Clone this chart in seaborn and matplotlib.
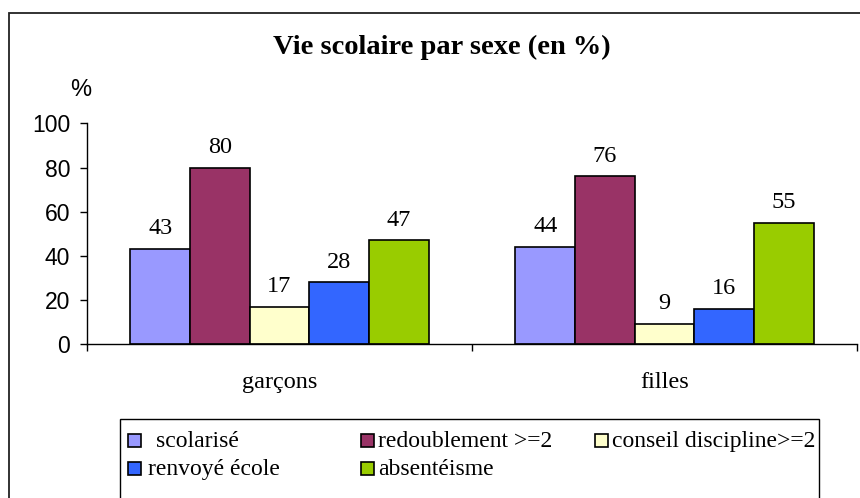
import matplotlib
matplotlib.use("Agg")
import matplotlib.pyplot as plt
from matplotlib.patches import Rectangle
import seaborn as sns
import pandas as pd

# ---- data ----
groups = ["garçons", "filles"]
series = ["scolarisé", "redoublement >=2", "conseil discipline>=2", "renvoyé école", "absentéisme"]
values_garcons = [43, 80, 17, 28, 47]
values_filles = [44, 76, 9, 16, 55]
colors = ["#9999FF", "#993366", "#FFFFCC", "#3366FF", "#99CC00"]
yticks = [0, 20, 40, 60, 80, 100]

rows = []
for s, vg, vf in zip(series, values_garcons, values_filles):
    rows.append({"sexe": groups[0], "indicateur": s, "valeur": vg})
    rows.append({"sexe": groups[1], "indicateur": s, "valeur": vf})
df = pd.DataFrame(rows)

sns.set_style("white")
plt.rcParams["font.family"] = ["Liberation Serif", "DejaVu Serif"]
plt.rcParams["text.color"] = "black"
plt.rcParams["xtick.color"] = "black"
plt.rcParams["ytick.color"] = "black"
plt.rcParams["axes.labelcolor"] = "black"

W, H = 860, 498
fig = plt.figure(figsize=(W / 100, H / 100), dpi=100)

def fx(px):
    return px / W

def fy(py):
    return 1 - py / H

ax = fig.add_axes([fx(87), fy(344), fx(857) - fx(87), fy(123.5) - fy(344)])

sns.barplot(data=df, x="sexe", y="valeur", hue="indicateur", order=groups,
            hue_order=series, palette=colors, width=0.775, edgecolor="black",
            linewidth=1.2, saturation=1, legend=False, ax=ax)

ax.set_xlim(-0.5, 1.5)
ax.set_ylim(0, 100)
ax.set_yticks(yticks)
ax.set_yticklabels([str(t) for t in yticks], family=["Liberation Sans", "DejaVu Sans"], fontsize=16.5)
ax.set_xlabel("")
ax.set_ylabel("")
for sp in ["top", "right"]:
    ax.spines[sp].set_visible(False)
for sp in ["left", "bottom"]:
    ax.spines[sp].set_color("black")
    ax.spines[sp].set_linewidth(1.0)

ax.tick_params(axis="y", direction="out", length=5, width=1, pad=7, colors="black", left=True)
ax.set_xticks([0, 1])
ax.set_xticklabels(groups, fontsize=17.5)
ax.tick_params(axis="x", which="major", length=0, pad=20, labelcolor="black")
ax.set_xticks([-0.5, 0.5, 1.5], minor=True)
ax.tick_params(axis="x", which="minor", direction="out", length=5, width=1, bottom=True, color="black")

for cont in ax.containers:
    ax.bar_label(cont, fmt="%d", padding=7, fontsize=17.5, color="black")

# title and unit
fig.text(fx(442), fy(47), "Vie scolaire par sexe (en %)", ha="center", va="center",
         fontsize=20.5, fontweight="bold", color="black")
fig.text(fx(81), fy(90), "%", ha="center", va="center", fontsize=17,
         family=["Liberation Sans", "DejaVu Sans"], color="black")

# outer chart frame
fig.patches.append(Rectangle((fx(9), fy(520)), fx(900) - fx(9), fy(13) - fy(520),
                             transform=fig.transFigure, fill=False, edgecolor="#222222",
                             linewidth=1.3, zorder=0))

# legend frame
fig.patches.append(Rectangle((fx(119.5), fy(520)), fx(819) - fx(119.5), fy(419) - fy(520),
                             transform=fig.transFigure, fill=False, edgecolor="black",
                             linewidth=1.0, zorder=1))

# legend entries (manual layout like the original)
marker_x = [128, 361, 595, 128, 361]
marker_y = [434, 434, 434, 461.5, 461.5]
text_x = [156, 378, 612, 148, 378]
for s, c, mx, my, tx in zip(series, colors, marker_x, marker_y, text_x):
    fig.patches.append(Rectangle((fx(mx), fy(my + 13)), fx(13), fy(0) - fy(13),
                                 transform=fig.transFigure, facecolor=c,
                                 edgecolor="black", linewidth=1.2, zorder=2))
    fig.text(fx(tx), fy(my + 13), s, ha="left", va="baseline", fontsize=17, color="black")

fig.savefig("out.png", dpi=100)
